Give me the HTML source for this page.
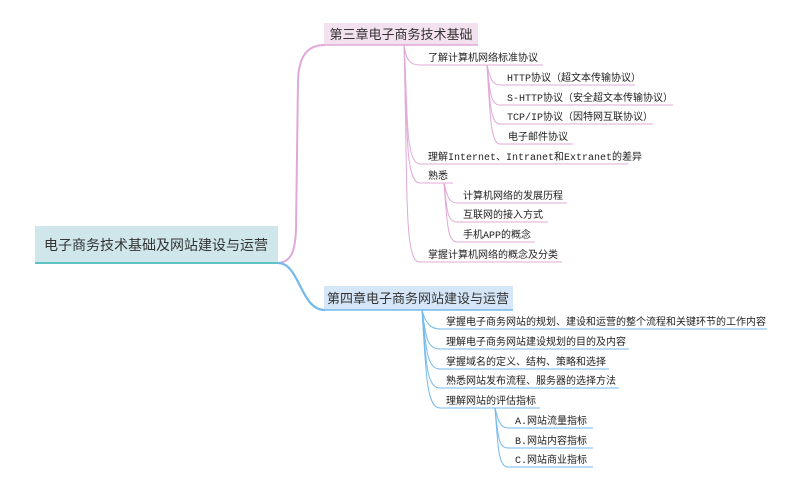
<!DOCTYPE html>
<html><head><meta charset="utf-8"><style>
html,body{margin:0;padding:0;background:#fff;}
body{width:800px;height:488px;overflow:hidden;position:relative;}
svg{position:absolute;left:0;top:0;}
text{font-family:"Liberation Mono","WenQuanYi Zen Hei","Noto Sans CJK SC",monospace;font-size:10px;fill:#222;}
.t{font-family:"Liberation Sans","Noto Sans CJK SC",sans-serif;font-size:13px;fill:#333;}
</style></head><body>
<svg width="800" height="488" viewBox="0 0 800 488">
<!-- root -->
<rect x="35" y="226" width="243" height="37" fill="#cfe7ea"/>
<line x1="35" y1="263" x2="280" y2="263" stroke="#5fc3c3" stroke-width="2"/>
<text class="t" x="156" y="250" text-anchor="middle" style="font-size:14px">电子商务技术基础及网站建设与运营</text>
<!-- main connectors -->
<path d="M278,263 C292,262 295,250 296,230 L298,80 C299,55 308,45 325,45" fill="none" stroke="#e0a8d8" stroke-width="2"/>
<path d="M278,263 C300,263 300,310 325,310" fill="none" stroke="#74b9ec" stroke-width="2.2"/>
<!-- ch3 -->
<rect x="324" y="23" width="154" height="22" fill="#f3e1ef"/>
<line x1="324" y1="45" x2="478" y2="45" stroke="#e0a8d8" stroke-width="1.5"/>
<text class="t" x="401" y="39" text-anchor="middle">第三章电子商务技术基础</text>
<g fill="none" stroke="#e0a8d8" stroke-width="1">
<path d="M404,45 C406,60 410,65 420,65 L543,65"/>
<path d="M404,45 C408,100 404,164 420,164 L628,164"/>
<path d="M404,45 C408,120 404,183 420,183 L453,183"/>
<path d="M404,45 C408,200 404,262 420,262 L562,262"/>
<path d="M487,65 C490,78 492,85 500,85 L635,85"/>
<path d="M487,65 C490,90 490,105 500,105 L673,105"/>
<path d="M487,65 C490,100 490,124 500,124 L653,124"/>
<path d="M487,65 C490,110 490,144 500,144 L573,144"/>
<path d="M444,183 C447,196 449,203 457,203 L567,203"/>
<path d="M444,183 C447,210 447,222 457,222 L548,222"/>
<path d="M444,183 C447,220 447,242 457,242 L535,242"/>
</g>
<text x="428" y="61">了解计算机网络标准协议</text>
<text x="507" y="81">HTTP协议（超文本传输协议）</text>
<text x="507" y="101">S-HTTP协议（安全超文本传输协议）</text>
<text x="507" y="120">TCP/IP协议（因特网互联协议）</text>
<text x="508" y="140">电子邮件协议</text>
<text x="428" y="160">理解Internet、Intranet和Extranet的差异</text>
<text x="428" y="179">熟悉</text>
<text x="463" y="199">计算机网络的发展历程</text>
<text x="463" y="218">互联网的接入方式</text>
<text x="463" y="238">手机APP的概念</text>
<text x="428" y="258">掌握计算机网络的概念及分类</text>
<!-- ch4 -->
<rect x="324" y="286" width="189" height="24" fill="#d4e6f7"/>
<line x1="324" y1="310" x2="513" y2="310" stroke="#74b9ec" stroke-width="1.5"/>
<text class="t" x="418" y="303" text-anchor="middle">第四章电子商务网站建设与运营</text>
<g fill="none" stroke="#74b9ec" stroke-width="1">
<path d="M422,310 C425,322 430,329 440,329 L767,329"/>
<path d="M422,310 C426,335 426,349 440,349 L629,349"/>
<path d="M422,310 C426,345 426,369 440,369 L609,369"/>
<path d="M422,310 C426,360 426,388 440,388 L619,388"/>
<path d="M422,310 C426,370 426,408 440,408 L540,408"/>
<path d="M495,408 C498,420 500,428 508,428 L593,428"/>
<path d="M495,408 C498,435 498,448 508,448 L593,448"/>
<path d="M495,408 C498,445 498,467 508,467 L593,467"/>
</g>
<text x="446" y="325">掌握电子商务网站的规划、建设和运营的整个流程和关键环节的工作内容</text>
<text x="446" y="345">理解电子商务网站建设规划的目的及内容</text>
<text x="446" y="365">掌握域名的定义、结构、策略和选择</text>
<text x="446" y="384">熟悉网站发布流程、服务器的选择方法</text>
<text x="446" y="404">理解网站的评估指标</text>
<text x="515" y="424">A.网站流量指标</text>
<text x="515" y="444">B.网站内容指标</text>
<text x="515" y="463">C.网站商业指标</text>
</svg>
</body></html>
